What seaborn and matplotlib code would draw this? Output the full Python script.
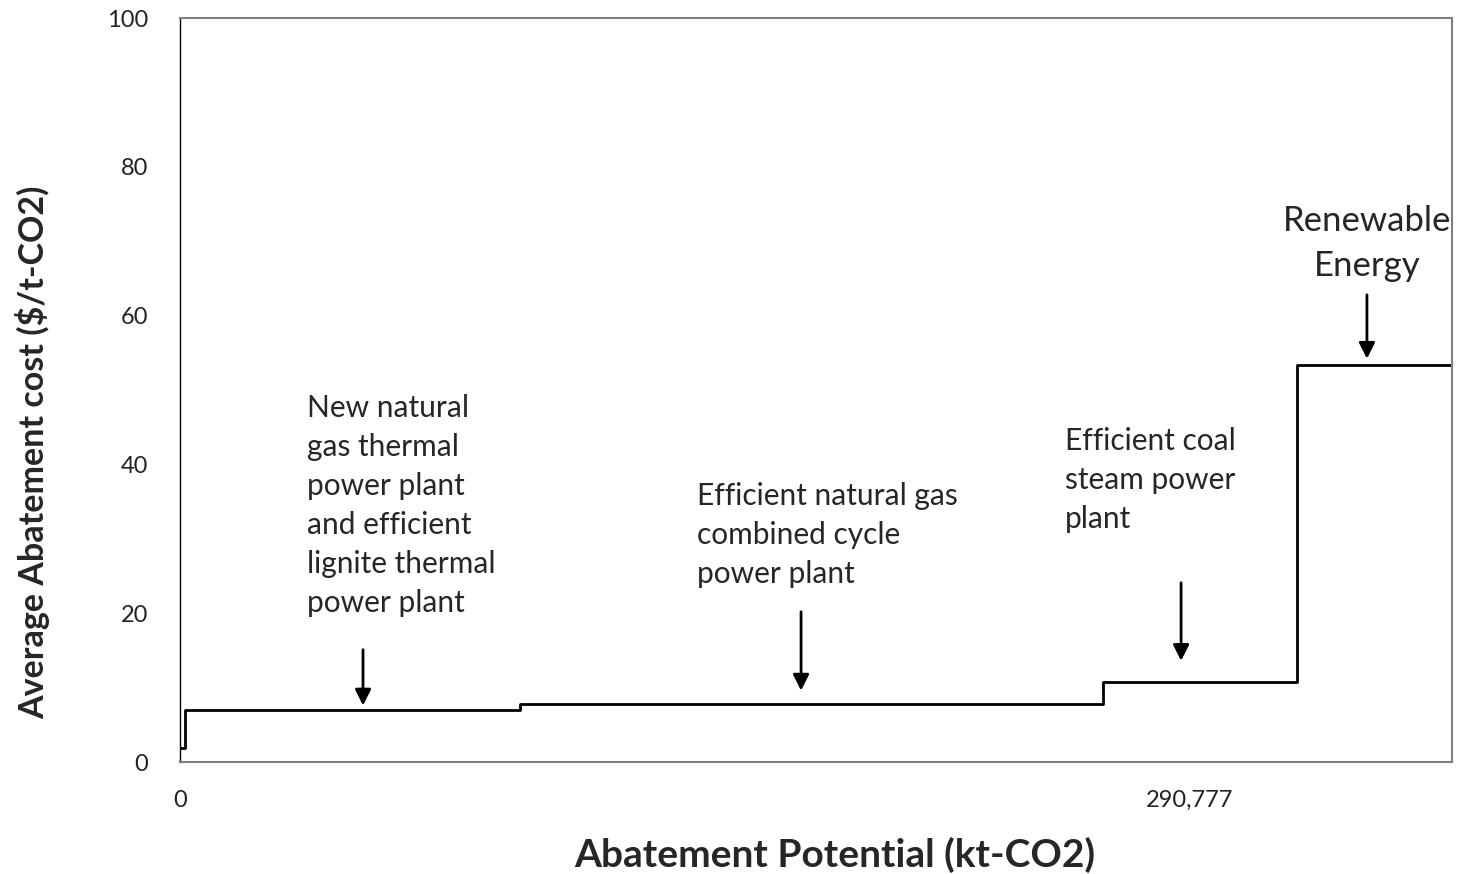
"""
Marginal abatement cost step curve for power sector options.
"""

import matplotlib.pyplot as plt
import pandas as pd
import seaborn as sns

# step start positions (kt-CO2) and average abatement cost ($/t-CO2)
step_start = [0, 1600, 97900, 265650, 321500]
step_cost = [1.9, 7.0, 7.8, 10.8, 53.3]
x_max = 366200

x_ticks = [0, 290777]
x_tick_labels = ["0", "290,777"]
y_ticks = [0, 20, 40, 60, 80, 100]

labels = [
    "New natural\ngas thermal\npower plant\nand efficient\nlignite thermal\npower plant",
    "Efficient natural gas\ncombined cycle\npower plant",
    "Efficient coal\nsteam power\nplant",
    "Renewable\nEnergy",
]
label_x = [36600, 148800, 254800, 341700]
label_y = [49.4, 37.6, 45.0, 74.9]
label_ha = ["left", "left", "left", "center"]
label_size = [21.5, 21.5, 21.5, 25]
label_spacing = [1.47, 1.47, 1.47, 1.52]
arrow_x = [52700, 178800, 288200, 341700]
arrow_top = [15.1, 20.2, 24.1, 62.8]
arrow_tip = [7.6, 9.6, 13.6, 54.2]

sns.set_style("white")
plt.rcParams["font.family"] = ["Lato", "DejaVu Sans"]

df = pd.DataFrame({
    "x": step_start + [x_max],
    "cost": step_cost + [step_cost[-1]],
})

fig, ax = plt.subplots(figsize=(14.57, 8.74), dpi=100)
fig.subplots_adjust(left=0.1235, right=0.9966, bottom=0.1281, top=0.9794)

sns.lineplot(data=df, x="x", y="cost", drawstyle="steps-post",
             color="black", linewidth=2.0, ax=ax)

for txt, lx, ly, ha, fs, ls in zip(labels, label_x, label_y, label_ha,
                                   label_size, label_spacing):
    ax.text(lx, ly, txt, ha=ha, va="top", fontsize=fs, linespacing=ls)

for ax_x, top, tip in zip(arrow_x, arrow_top, arrow_tip):
    ax.annotate("", xy=(ax_x, tip), xytext=(ax_x, top),
                arrowprops=dict(arrowstyle="-|>", color="black", lw=2,
                                mutation_scale=24, shrinkA=0, shrinkB=0))

ax.set_xlim(0, x_max)
ax.set_ylim(0, 100)
ax.set_xticks(x_ticks)
ax.set_xticklabels(x_tick_labels)
ax.set_yticks(y_ticks)
ax.tick_params(axis="both", length=0, labelsize=17, colors="#222222")
ax.tick_params(axis="x", pad=20)
ax.tick_params(axis="y", pad=23)

for side in ["top", "right", "bottom"]:
    ax.spines[side].set_color("#808080")
    ax.spines[side].set_linewidth(1.5)
ax.spines["left"].set_color("black")
ax.spines["left"].set_linewidth(1.0)

ax.set_xlabel("Abatement Potential (kt-CO2)", fontsize=28, fontweight="bold",
              va="center")
ax.xaxis.set_label_coords(0.515, -0.125)
ax.set_ylabel("Average Abatement cost ($/t-CO2)", fontsize=24.5, fontweight="bold",
              va="center")
ax.yaxis.set_label_coords(-0.1156, 0.4167)

plt.savefig("out.png", dpi=100)
